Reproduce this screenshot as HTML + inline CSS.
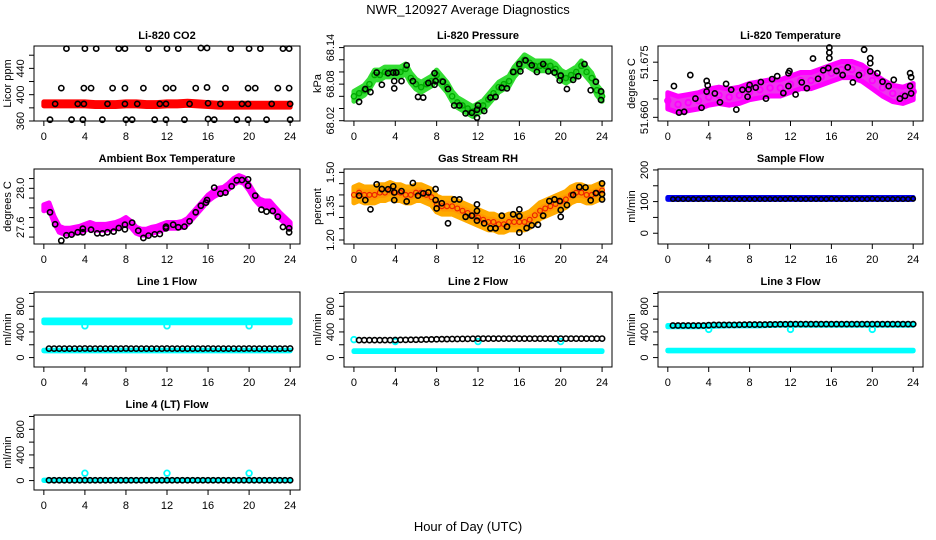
<!DOCTYPE html>
<html><head><meta charset="utf-8"><style>
html,body{margin:0;padding:0;background:#fff;}
svg{display:block;font-family:"Liberation Sans",Arial,sans-serif;}
</style></head><body>
<svg id="chart" width="936" height="540" viewBox="0 0 936 540" xmlns="http://www.w3.org/2000/svg">
<text x="468" y="14" text-anchor="middle" font-size="13">NWR_120927  Average Diagnostics</text>
<text x="468" y="531" text-anchor="middle" font-size="13">Hour of Day (UTC)</text>
</svg>
<script>
// ---------- data ----------
const xTicks = [0,4,8,12,16,20,24];
const hourly = [0,1,2,3,4,5,6,7,8,9,10,11,12,13,14,15,16,17,18,19,20,21,22,23,24];
const halfHourly = [0,0.5,1,1.5,2,2.5,3,3.5,4,4.5,5,5.5,6,6.5,7,7.5,8,8.5,9,9.5,10,10.5,11,11.5,12,12.5,13,13.5,14,14.5,15,15.5,16,16.5,17,17.5,18,18.5,19,19.5,20,20.5,21,21.5,22,22.5,23,23.5,24];
const blackHours = [0.5,1,1.5,2,2.5,3,3.5,4,4.5,5,5.5,6,6.5,7,7.5,8,8.5,9,9.5,10,10.5,11,11.5,12,12.5,13,13.5,14,14.5,15,15.5,16,16.5,17,17.5,18,18.5,19,19.5,20,20.5,21,21.5,22,22.5,23,23.5,24];

// CO2
const co2Band = [386,386,386,386,386,385,385,385,386,386,385,385,386,386,387,386,385,384,384,384,384,384,384,384,384];
const co2BlackX = [2.2,4.0,5.1,7.3,7.9,10.2,12.0,13.1,15.3,15.9,18.2,20.0,21.1,23.3,23.9, 1.7,3.9,4.6,6.7,7.9,9.7,11.9,12.6,14.8,15.9,17.7,19.9,20.6,22.8,23.9, 1.1,3.3,3.9,6.2,7.9,9.1,11.3,11.9,14.2,16.0,17.2,19.3,19.9,22.2,24.0, 0.6,2.7,3.8,5.7,8.0,8.6,10.8,11.9,13.7,16.0,16.6,18.8,19.9,21.7,24.0];
const co2BlackY = [470,470,470,470,470,470,470,470,471,471,470,470,470,470,470, 410,410,410,410,410,410,410,410,410,411,410,410,410,410,410, 386,386,386,386,386,386,386,386,386,387,386,386,386,386,386, 362,362,362,362,362,362,362,362,362,363,362,362,362,362,362];

// Pressure
const presBand = [68.060,68.065,68.070,68.080,68.095,68.095,68.100,68.100,68.100,68.100,68.105,68.090,68.080,68.075,68.080,68.085,68.095,68.085,68.075,68.060,68.050,68.045,68.040,68.035,68.040,68.045,68.055,68.065,68.075,68.080,68.085,68.100,68.110,68.120,68.115,68.110,68.110,68.110,68.110,68.105,68.095,68.090,68.095,68.100,68.110,68.100,68.090,68.070,68.060];
const presBlackX = [0.5,1.1,1.6,2.2,2.7,3.3,3.8,3.9,3.9,4.1,4.6,5.1,5.7,6.2,6.7,7.2,7.8,7.8,7.9,8.6,9.1,9.7,10.2,10.8,11.4,11.9,11.9,12.0,12.6,13.2,13.7,14.3,14.8,15.4,16.0,16.1,16.6,17.2,17.7,18.3,18.8,19.4,19.9,20.0,20.6,21.2,21.7,22.3,22.9,23.4,23.9,23.9];
const presBlackY = [68.051,68.072,68.067,68.099,68.079,68.098,68.099,68.085,68.073,68.099,68.085,68.111,68.085,68.059,68.058,68.082,68.098,68.079,68.085,68.084,68.072,68.045,68.045,68.032,68.033,68.038,68.025,68.045,68.036,68.058,68.059,68.074,68.073,68.100,68.113,68.101,68.119,68.111,68.100,68.113,68.101,68.099,68.086,68.094,68.072,68.087,68.093,68.113,68.070,68.084,68.068,68.054];

// Li-820 temperature
const tempBand = [51.6645,51.6635,51.6640,51.6645,51.6655,51.6660,51.6655,51.6660,51.6670,51.6675,51.6680,51.6680,51.6690,51.6700,51.6700,51.6710,51.6720,51.6730,51.6730,51.6720,51.6700,51.6680,51.6665,51.6660,51.6670];
const tempBlackX = [0.6,1.1,1.6,2.2,2.7,3.3,3.8,3.9,3.8,4.6,5.1,5.7,6.2,6.7,7.3,7.8,7.9,8.0,8.6,9.1,9.6,10.2,10.7,11.3,11.8,11.8,11.9,12.5,13.1,13.6,14.2,14.7,15.2,15.7,15.8,15.8,15.8,16.5,17.1,17.6,18.1,18.7,19.2,19.8,19.8,19.8,20.5,21.0,21.6,22.1,22.7,23.2,23.7,23.8,23.7,23.8];
const tempBlackY = [51.6685,51.6613,51.6615,51.6715,51.6651,51.6626,51.6699,51.6687,51.6670,51.6665,51.6641,51.6691,51.6675,51.6621,51.6675,51.6656,51.6676,51.6688,51.6681,51.6696,51.6651,51.6704,51.6712,51.6666,51.6685,51.6720,51.6726,51.6662,51.6695,51.6679,51.6760,51.6705,51.6728,51.6734,51.6761,51.6776,51.6790,51.6726,51.6715,51.6736,51.6695,51.6715,51.6784,51.6747,51.6761,51.6725,51.6720,51.6697,51.6685,51.6702,51.6651,51.6658,51.6720,51.6709,51.6685,51.6665];

// Ambient box temperature
const ambBand = [27.80,27.82,27.68,27.58,27.56,27.56,27.57,27.58,27.60,27.62,27.60,27.60,27.60,27.61,27.62,27.64,27.67,27.63,27.57,27.55,27.55,27.57,27.58,27.60,27.62,27.62,27.62,27.63,27.66,27.72,27.78,27.84,27.90,27.94,27.97,27.98,28.02,28.07,28.10,28.08,28.01,27.92,27.86,27.84,27.84,27.78,27.72,27.67,27.62];
const ambBlackX = [0.6,1.1,1.7,2.2,2.7,3.3,3.8,3.8,4.6,5.2,5.7,6.2,6.8,7.3,7.9,7.9,8.6,9.2,9.7,10.2,10.8,11.3,11.9,11.9,12.6,13.1,13.7,14.2,14.8,15.3,15.8,15.9,16.6,17.2,17.7,18.3,18.8,19.3,19.9,19.9,20.6,21.2,21.7,22.3,22.8,23.3,23.9,23.9];
const ambBlackY = [27.754,27.631,27.463,27.518,27.525,27.549,27.586,27.549,27.576,27.538,27.538,27.549,27.556,27.593,27.627,27.579,27.648,27.566,27.491,27.515,27.528,27.532,27.607,27.590,27.627,27.600,27.607,27.662,27.754,27.822,27.853,27.880,28.007,27.945,27.956,28.021,28.082,28.085,28.092,28.027,27.925,27.781,27.761,27.768,27.709,27.603,27.590,27.549];

// Gas stream RH
const rhBand = [1.40,1.41,1.40,1.40,1.40,1.41,1.41,1.42,1.41,1.41,1.40,1.40,1.41,1.41,1.40,1.39,1.36,1.35,1.35,1.35,1.34,1.33,1.32,1.31,1.30,1.29,1.28,1.28,1.27,1.27,1.28,1.28,1.28,1.28,1.29,1.31,1.33,1.34,1.35,1.36,1.37,1.38,1.40,1.41,1.41,1.40,1.40,1.41,1.42];
const rhBlackX = [0.5,1.1,1.6,2.2,2.7,3.3,3.8,3.9,3.9,4.6,5.1,5.7,6.2,6.7,7.2,7.9,7.9,8.0,8.5,9.1,9.7,10.2,10.8,11.4,11.9,11.9,11.9,12.6,13.2,13.7,14.3,14.8,15.4,16.0,16.0,16.0,16.7,17.2,17.8,18.3,18.9,19.4,19.9,20.0,20.0,20.6,21.2,21.8,22.4,22.9,23.4,24.0,24.0,24.0];
const rhBlackY = [1.397,1.377,1.336,1.447,1.426,1.425,1.438,1.411,1.377,1.417,1.371,1.453,1.397,1.407,1.411,1.426,1.377,1.340,1.363,1.274,1.380,1.380,1.303,1.308,1.358,1.329,1.286,1.274,1.252,1.252,1.308,1.259,1.314,1.336,1.306,1.233,1.253,1.265,1.268,1.308,1.373,1.380,1.373,1.333,1.303,1.355,1.400,1.435,1.433,1.376,1.408,1.451,1.380,1.404];

// Flows
const sampleBand = [110,110,110,110,110,110,110,110,110,110,110,110,110,110,110,110,110,110,110,110,110,110,110,110,110];
const sampleBlack = [108,108,108,108,108,108,108,109,108,108,108,108,108,108,108,108,108,108,108,108,108,108,108,109,108,108,108,108,108,108,108,109,108,108,108,108,108,108,108,109,108,108,108,108,108,108,108,109];
const line1CyanHigh = [565,565,565,565,565,565,565,565,565,565,565,565,565,565,565,565,565,565,565,565,565,565,565,565,565];
const line1CyanLow = [110,110,110,110,110,110,110,110,110,110,110,110,110,110,110,110,110,110,110,110,110,110,110,110,110];
const line1Black = [140,140,140,140,140,140,140,142,140,140,140,140,140,140,140,142,140,140,140,140,140,140,140,142,140,140,140,140,140,140,140,142,140,140,140,140,140,140,140,142,140,140,140,140,140,140,140,142];
const line1OutX = [4,12,20];
const line1OutY = [495,495,495];
const line2CyanLow = [100,100,100,100,100,100,100,100,100,100,100,100,100,100,100,100,100,100,100,100,100,100,100,100,100];
const line2Black = [272,272,272,272,272,272,272,274,276,276,278,278,280,282,284,286,288,288,290,290,292,292,294,296,296,296,296,296,296,296,296,296,296,296,296,296,296,296,296,296,296,296,296,296,296,296,296,296];
const line2OutX = [0,4,12,20];
const line2OutY = [280,250,250,250];
const line3CyanHigh = [490,490,490,490,495,500,505,505,505,505,510,515,515,515,515,515,515,515,515,515,515,515,515,515,515];
const line3CyanLow = [110,110,110,110,110,110,110,110,110,110,110,110,110,110,110,110,110,110,110,110,110,110,110,110,110];
const line3Black = [500,500,500,500,500,500,500,505,510,510,510,510,510,512,514,515,515,515,515,517,518,520,520,522,522,522,522,522,522,522,522,522,522,522,522,522,522,522,522,522,522,522,522,522,522,522,522,522];
const line3OutX = [4,12,20];
const line3OutY = [440,440,440];
const line4CyanLow = [5,5,5,5,5,5,5,5,5,5,5,5,5,5,5,5,5,5,5,5,5,5,5,5,5];
const line4Black = [5,5,5,5,5,5,5,5,5,5,5,5,5,5,5,5,5,5,5,5,5,5,5,5,5,5,5,5,5,5,5,5,5,5,5,5,5,5,5,5,5,5,5,5,5,5,5,5];
const line4OutX = [4,12,20];
const line4OutY = [115,115,115];

// ---------- drawing ----------
const NS = "http://www.w3.org/2000/svg";
const svg = document.getElementById('chart');
function mk(tag, attrs, parent){
  const e = document.createElementNS(NS, tag);
  for (const k in attrs) e.setAttribute(k, attrs[k]);
  (parent||svg).appendChild(e);
  return e;
}
function makePanel(p){
  const g = mk('g', {});
  
  
  const xs = h => p.l + (h + 0.96) / 25.92 * (p.r - p.l);
  const ys = v => p.b - (v - p.ymin) / (p.ymax - p.ymin) * (p.b - p.t);
  const t = mk('text', {x:(p.l+p.r)/2, y:p.t-7, 'text-anchor':'middle', 'font-size':11, 'font-weight':'bold'}, g);
  t.textContent = p.title;
  
  
  const xa = mk('g', {}, g);
  
  
  mk('line', {x1:xs(0), x2:xs(24), y1:p.b, y2:p.b, stroke:'#000'}, xa);
  xTicks.forEach(v => {
    mk('line', {x1:xs(v), x2:xs(v), y1:p.b, y2:p.b+5, stroke:'#000'}, xa);
    const tx = mk('text', {x:xs(v), y:p.b+19, 'text-anchor':'middle', 'font-size':11}, xa);
    tx.textContent = v;
  });
  const ya = mk('g', {}, g);
  
  
  p.yticks.forEach(v => {
    if (ys(v) < p.t - 0.5 || ys(v) > p.b + 0.5) return;
    mk('line', {x1:p.l-5, x2:p.l, y1:ys(v), y2:ys(v), stroke:'#000'}, ya);
  });
  p.ylabels.forEach((v,i) => {
    const tx = mk('text', {x:p.l-10, y:ys(v), 'text-anchor':'middle', 'font-size':11, transform:`rotate(-90 ${p.l-10} ${ys(v)})`}, ya);
    tx.textContent = p.ylabelText[i];
  });
  const yl = mk('text', {x:p.l-23, y:(p.t+p.b)/2, 'text-anchor':'middle', 'font-size':11, transform:`rotate(-90 ${p.l-23} ${(p.t+p.b)/2})`}, g);
  yl.textContent = p.ylab;
  
  
  const plot = mk('g', {}, g);
  
  
  const box = mk('rect', {x:p.l, y:p.t, width:p.r-p.l, height:p.b-p.t, fill:'none', stroke:'#000'}, g);
  
  
  return {g:plot, xs, ys};
}
function band(P, xArr, yArr, hw, fill, name, stroke){
  let pts = xArr.map((x,i) => P.xs(x)+','+P.ys(yArr[i]+hw));
  pts = pts.concat(xArr.map((x,i) => P.xs(x)+','+P.ys(yArr[i]-hw)).reverse());
  const pg = mk('polygon', {points:pts.join(' '), fill, stroke:stroke||fill, 'stroke-width':5, 'stroke-linejoin':'round'}, P.g);
  
  
  return pg;
}
function points(P, xArr, yArr, color, name, r, sw){
  const g = mk('g', {}, P.g);
  
  
  xArr.forEach((x,i) => {
    const c = mk('circle', {cx:P.xs(x), cy:P.ys(yArr[i]), r:r||2.6, fill:'none', stroke:color, 'stroke-width':sw||1.6}, g);
    
    
  });
}
function steps(min,max,step){const a=[];for(let v=min;v<=max+1e-9;v+=step)a.push(+v.toFixed(4));return a;}

const colL=[34,344,658], colR=[300,612,923], rowT=[46,169,292,415], rowB=[121,244,367,490];
const flowY = {ymin:-147, ymax:1023, yticks:steps(-200,1000,200), ylabels:[0,400,800], ylabelText:['0','400','800'], ylab:'ml/min'};

// Panel 1: CO2
let P = makePanel({name:'co2', title:'Li-820 CO2', ylab:'Licor ppm', l:colL[0], r:colR[0], t:rowT[0], b:rowB[0], ymin:360, ymax:474, yticks:steps(360,460,20), ylabels:[360,400,440], ylabelText:['360','400','440']});
band(P, hourly, co2Band, 3, '#ff0000', 'co2-red-series');
points(P, co2BlackX, co2BlackY, '#000', 'co2-black-series');

// Panel 2: Pressure
P = makePanel({name:'pressure', title:'Li-820 Pressure', ylab:'kPa', l:colL[1], r:colR[1], t:rowT[0], b:rowB[0], ymin:68.0195, ymax:68.1426, yticks:steps(68.02,68.14,0.02), ylabels:[68.02,68.08,68.14], ylabelText:['68.02','68.08','68.14']});
band(P, halfHourly, presBand, 0.008, '#22cc22', 'pressure-green-band', '#33dd33');
points(P, halfHourly, presBand.map((v)=>v), '#00aa00', 'pressure-green-series', 2.6, 1.4);
points(P, presBlackX, presBlackY, '#000', 'pressure-black-series');

// Panel 3: Li-820 temp
P = makePanel({name:'li820-temp', title:'Li-820 Temperature', ylab:'degrees C', l:colL[2], r:colR[2], t:rowT[0], b:rowB[0], ymin:51.659, ymax:51.6794, yticks:steps(51.66,51.675,0.005), ylabels:[51.66,51.675], ylabelText:['51.660','51.675']});
band(P, hourly, tempBand, 0.0022, '#ee33ee', 'li820-temp-magenta-band', '#ff00ff');
points(P, hourly, tempBand, '#ff00ff', 'li820-temp-magenta-series', 2.8, 1.8);
points(P, tempBlackX, tempBlackY, '#000', 'li820-temp-black-series');

// Panel 4: Ambient
P = makePanel({name:'ambient', title:'Ambient Box Temperature', ylab:'degrees C', l:colL[0], r:colR[0], t:rowT[1], b:rowB[1], ymin:27.429, ymax:28.198, yticks:steps(27.4,28.1,0.1).filter(v=>v>=27.43), ylabels:[27.6,28.0], ylabelText:['27.6','28.0']});
band(P, halfHourly, ambBand, 0.03, '#ff00ff', 'ambient-magenta-series');
points(P, ambBlackX, ambBlackY, '#000', 'ambient-black-series');

// Panel 5: RH
P = makePanel({name:'rh', title:'Gas Stream RH', ylab:'percent', l:colL[1], r:colR[1], t:rowT[1], b:rowB[1], ymin:1.1823, ymax:1.515, yticks:steps(1.2,1.5,0.05), ylabels:[1.2,1.35,1.5], ylabelText:['1.20','1.35','1.50']});
band(P, halfHourly, rhBand, 0.035, '#ff9900', 'rh-orange-band', '#ffaa00');
points(P, halfHourly, rhBand, '#ee2200', 'rh-red-series', 2.4, 1.2);
points(P, rhBlackX, rhBlackY, '#000', 'rh-black-series');

// Panel 6: Sample flow
P = makePanel({name:'sample-flow', title:'Sample Flow', ylab:'ml/min', l:colL[2], r:colR[2], t:rowT[1], b:rowB[1], ymin:-34, ymax:203, yticks:steps(0,200,50), ylabels:[0,100,200], ylabelText:['0','100','200']});
band(P, hourly, sampleBand, 3, '#0000ee', 'sample-flow-blue-series');
points(P, blackHours, sampleBlack, '#000', 'sample-flow-black-series', 2.2, 1.5);

// Panel 7: Line 1
P = makePanel(Object.assign({name:'line1-flow', title:'Line 1 Flow', l:colL[0], r:colR[0], t:rowT[2], b:rowB[2]}, flowY));
band(P, hourly, line1CyanHigh, 22, '#00ffff', 'line1-cyan-high-series');
band(P, hourly, line1CyanLow, 5, '#00ffff', 'line1-cyan-low-series');
points(P, line1OutX, line1OutY, '#00ffff', 'line1-cyan-outliers', 2.8, 1.8);
points(P, blackHours, line1Black, '#000', 'line1-black-series', 2.6, 1.6);

// Panel 8: Line 2
P = makePanel(Object.assign({name:'line2-flow', title:'Line 2 Flow', l:colL[1], r:colR[1], t:rowT[2], b:rowB[2]}, flowY));
band(P, hourly, line2CyanLow, 6, '#00ffff', 'line2-cyan-low-series');
points(P, line2OutX, line2OutY, '#00ffff', 'line2-cyan-outliers', 2.8, 1.8);
points(P, blackHours, line2Black, '#000', 'line2-black-series', 2.6, 1.6);

// Panel 9: Line 3
P = makePanel(Object.assign({name:'line3-flow', title:'Line 3 Flow', l:colL[2], r:colR[2], t:rowT[2], b:rowB[2]}, flowY));
band(P, hourly, line3CyanHigh, 10, '#00ffff', 'line3-cyan-high-series');
band(P, hourly, line3CyanLow, 5, '#00ffff', 'line3-cyan-low-series');
points(P, line3OutX, line3OutY, '#00ffff', 'line3-cyan-outliers', 2.8, 1.8);
points(P, blackHours, line3Black, '#000', 'line3-black-series', 2.6, 1.6);

// Panel 10: Line 4
P = makePanel(Object.assign({name:'line4-flow', title:'Line 4 (LT) Flow', l:colL[0], r:colR[0], t:rowT[3], b:rowB[3]}, flowY));
band(P, hourly, line4CyanLow, 3, '#00ffff', 'line4-cyan-low-series');
points(P, line4OutX, line4OutY, '#00ffff', 'line4-cyan-outliers', 2.8, 1.8);
points(P, blackHours, line4Black, '#000', 'line4-black-series', 2.6, 1.6);
</script>
</body></html>
